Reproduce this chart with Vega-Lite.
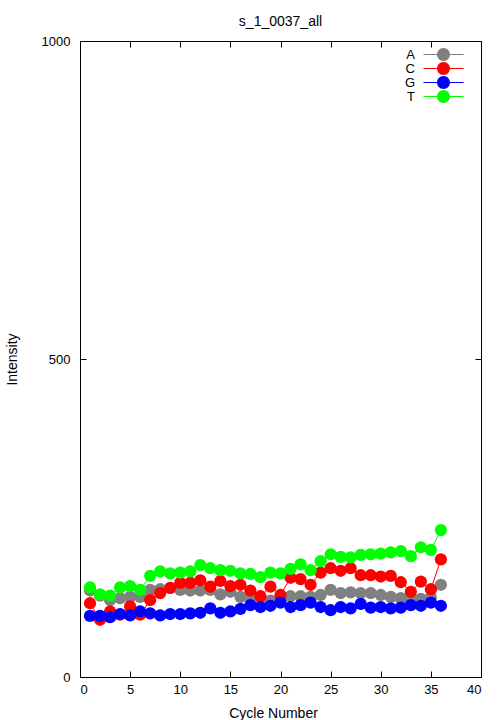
{
  "$schema": "https://vega.github.io/schema/vega-lite/v6.json",
  "width": 401,
  "height": 636,
  "autosize": {"type": "none"},
  "padding": {"left": 80, "top": 41, "right": 23, "bottom": 43},
  "background": "white",
  "title": {"text": "s_1_0037_all", "fontSize": 14, "fontWeight": "normal", "font": "Liberation Sans", "color": "black", "offset": 6},
  "config": {
    "font": "Liberation Sans",
    "view": {"stroke": "black", "strokeWidth": 1},
    "axis": {"grid": false, "domain": false, "tickColor": "black", "labelColor": "black", "titleColor": "black", "labelFontSize": 13, "titleFontSize": 14, "titleFontWeight": "normal", "labelFont": "Liberation Sans", "titleFont": "Liberation Sans", "format": "d"}
  },
  "data": {"values": [
    {"cycle":1,"base":"A","intensity":136},{"cycle":2,"base":"A","intensity":128},{"cycle":3,"base":"A","intensity":121},{"cycle":4,"base":"A","intensity":124},{"cycle":5,"base":"A","intensity":126},{"cycle":6,"base":"A","intensity":126},{"cycle":7,"base":"A","intensity":137},{"cycle":8,"base":"A","intensity":138},{"cycle":9,"base":"A","intensity":140},{"cycle":10,"base":"A","intensity":137},{"cycle":11,"base":"A","intensity":136},{"cycle":12,"base":"A","intensity":136},{"cycle":13,"base":"A","intensity":137},{"cycle":14,"base":"A","intensity":130},{"cycle":15,"base":"A","intensity":134},{"cycle":16,"base":"A","intensity":126},{"cycle":17,"base":"A","intensity":124},{"cycle":18,"base":"A","intensity":118},{"cycle":19,"base":"A","intensity":120},{"cycle":20,"base":"A","intensity":124},{"cycle":21,"base":"A","intensity":127},{"cycle":22,"base":"A","intensity":127},{"cycle":23,"base":"A","intensity":126},{"cycle":24,"base":"A","intensity":129},{"cycle":25,"base":"A","intensity":137},{"cycle":26,"base":"A","intensity":132},{"cycle":27,"base":"A","intensity":133},{"cycle":28,"base":"A","intensity":132},{"cycle":29,"base":"A","intensity":132},{"cycle":30,"base":"A","intensity":129},{"cycle":31,"base":"A","intensity":126},{"cycle":32,"base":"A","intensity":124},{"cycle":33,"base":"A","intensity":123},{"cycle":34,"base":"A","intensity":123},{"cycle":35,"base":"A","intensity":125},{"cycle":36,"base":"A","intensity":145},
    {"cycle":1,"base":"C","intensity":116},{"cycle":2,"base":"C","intensity":90},{"cycle":3,"base":"C","intensity":103},{"cycle":4,"base":"C","intensity":98},{"cycle":5,"base":"C","intensity":111},{"cycle":6,"base":"C","intensity":98},{"cycle":7,"base":"C","intensity":121},{"cycle":8,"base":"C","intensity":132},{"cycle":9,"base":"C","intensity":140},{"cycle":10,"base":"C","intensity":148},{"cycle":11,"base":"C","intensity":148},{"cycle":12,"base":"C","intensity":152},{"cycle":13,"base":"C","intensity":142},{"cycle":14,"base":"C","intensity":151},{"cycle":15,"base":"C","intensity":143},{"cycle":16,"base":"C","intensity":145},{"cycle":17,"base":"C","intensity":136},{"cycle":18,"base":"C","intensity":127},{"cycle":19,"base":"C","intensity":142},{"cycle":20,"base":"C","intensity":129},{"cycle":21,"base":"C","intensity":156},{"cycle":22,"base":"C","intensity":154},{"cycle":23,"base":"C","intensity":145},{"cycle":24,"base":"C","intensity":164},{"cycle":25,"base":"C","intensity":171},{"cycle":26,"base":"C","intensity":167},{"cycle":27,"base":"C","intensity":171},{"cycle":28,"base":"C","intensity":160},{"cycle":29,"base":"C","intensity":160},{"cycle":30,"base":"C","intensity":158},{"cycle":31,"base":"C","intensity":159},{"cycle":32,"base":"C","intensity":149},{"cycle":33,"base":"C","intensity":134},{"cycle":34,"base":"C","intensity":150},{"cycle":35,"base":"C","intensity":138},{"cycle":36,"base":"C","intensity":185},
    {"cycle":1,"base":"G","intensity":96},{"cycle":2,"base":"G","intensity":96},{"cycle":3,"base":"G","intensity":94},{"cycle":4,"base":"G","intensity":99},{"cycle":5,"base":"G","intensity":97},{"cycle":6,"base":"G","intensity":103},{"cycle":7,"base":"G","intensity":100},{"cycle":8,"base":"G","intensity":97},{"cycle":9,"base":"G","intensity":99},{"cycle":10,"base":"G","intensity":99},{"cycle":11,"base":"G","intensity":100},{"cycle":12,"base":"G","intensity":101},{"cycle":13,"base":"G","intensity":108},{"cycle":14,"base":"G","intensity":101},{"cycle":15,"base":"G","intensity":103},{"cycle":16,"base":"G","intensity":107},{"cycle":17,"base":"G","intensity":113},{"cycle":18,"base":"G","intensity":110},{"cycle":19,"base":"G","intensity":112},{"cycle":20,"base":"G","intensity":117},{"cycle":21,"base":"G","intensity":110},{"cycle":22,"base":"G","intensity":113},{"cycle":23,"base":"G","intensity":117},{"cycle":24,"base":"G","intensity":110},{"cycle":25,"base":"G","intensity":105},{"cycle":26,"base":"G","intensity":110},{"cycle":27,"base":"G","intensity":108},{"cycle":28,"base":"G","intensity":115},{"cycle":29,"base":"G","intensity":109},{"cycle":30,"base":"G","intensity":110},{"cycle":31,"base":"G","intensity":108},{"cycle":32,"base":"G","intensity":109},{"cycle":33,"base":"G","intensity":113},{"cycle":34,"base":"G","intensity":112},{"cycle":35,"base":"G","intensity":117},{"cycle":36,"base":"G","intensity":112},
    {"cycle":1,"base":"T","intensity":141},{"cycle":2,"base":"T","intensity":130},{"cycle":3,"base":"T","intensity":128},{"cycle":4,"base":"T","intensity":141},{"cycle":5,"base":"T","intensity":143},{"cycle":6,"base":"T","intensity":137},{"cycle":7,"base":"T","intensity":159},{"cycle":8,"base":"T","intensity":166},{"cycle":9,"base":"T","intensity":163},{"cycle":10,"base":"T","intensity":164},{"cycle":11,"base":"T","intensity":166},{"cycle":12,"base":"T","intensity":176},{"cycle":13,"base":"T","intensity":171},{"cycle":14,"base":"T","intensity":168},{"cycle":15,"base":"T","intensity":167},{"cycle":16,"base":"T","intensity":163},{"cycle":17,"base":"T","intensity":162},{"cycle":18,"base":"T","intensity":157},{"cycle":19,"base":"T","intensity":164},{"cycle":20,"base":"T","intensity":163},{"cycle":21,"base":"T","intensity":170},{"cycle":22,"base":"T","intensity":177},{"cycle":23,"base":"T","intensity":168},{"cycle":24,"base":"T","intensity":182},{"cycle":25,"base":"T","intensity":193},{"cycle":26,"base":"T","intensity":189},{"cycle":27,"base":"T","intensity":188},{"cycle":28,"base":"T","intensity":192},{"cycle":29,"base":"T","intensity":193},{"cycle":30,"base":"T","intensity":194},{"cycle":31,"base":"T","intensity":196},{"cycle":32,"base":"T","intensity":198},{"cycle":33,"base":"T","intensity":190},{"cycle":34,"base":"T","intensity":204},{"cycle":35,"base":"T","intensity":200},{"cycle":36,"base":"T","intensity":231}
  ]},
  "layer": [
    {
      "mark": {"type": "line", "strokeWidth": 1},
      "encoding": {
        "x": {"field": "cycle", "type": "quantitative", "scale": {"domain": [0, 40], "nice": false, "zero": false}, "axis": {"orient": "bottom", "values": [0,5,10,15,20,25,30,35,40], "tickSize": -6, "labelPadding": 12, "title": "Cycle Number", "titlePadding": 10, "titleX": 193}},
        "y": {"field": "intensity", "type": "quantitative", "scale": {"domain": [0, 1000], "nice": false}, "axis": {"orient": "left", "values": [0,500,1000], "tickSize": -6, "labelPadding": 16, "title": "Intensity", "titlePadding": 22}},
        "color": {"field": "base", "type": "nominal", "scale": {"domain": ["A", "C", "G", "T"], "range": ["#808080", "#ff0000", "#0000ff", "#00ff00"]}, "legend": {
          "title": null, "orient": "none", "legendX": 357, "legendY": 7, "padding": 0,
          "symbolType": "M-3.08,-0.08H3.08V0.08H-3.08Z M1,0 A1,1 0 1,1 -1,0 A1,1 0 1,1 1,0 Z",
          "symbolSize": 169, "symbolStrokeWidth": 0, "symbolOpacity": 1,
          "labelAlign": "right", "labelOffset": -35, "labelFontSize": 13, "labelColor": "black", "rowPadding": -1.5
        }}
      }
    },
    {
      "mark": {"type": "point", "filled": true, "opacity": 1, "size": 150},
      "encoding": {
        "x": {"field": "cycle", "type": "quantitative", "axis": {"orient": "top", "values": [0,5,10,15,20,25,30,35,40], "tickSize": -6, "labels": false, "title": null}},
        "y": {"field": "intensity", "type": "quantitative", "axis": {"orient": "right", "values": [0,500,1000], "tickSize": -6, "labels": false, "title": null}},
        "color": {"field": "base", "type": "nominal"}
      }
    }
  ],
  "resolve": {"axis": {"x": "independent", "y": "independent"}}
}
